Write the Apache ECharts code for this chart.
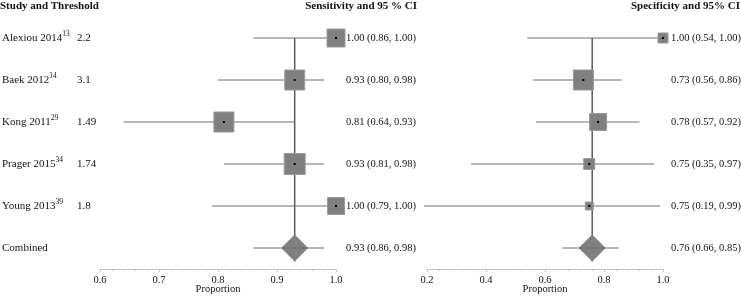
<!DOCTYPE html>
<html><head><meta charset="utf-8">
<script src="https://cdn.jsdelivr.net/npm/echarts@6/dist/echarts.min.js"></script>
<style>html,body{margin:0;padding:0;background:#fff}#c{width:741px;height:297px}</style>
</head><body><div id="c"></div>
<script>
const studies = ['Alexiou 2014','Baek 2012','Kong 2011','Prager 2015','Young 2013','Combined'];
const refs = ['13','14','29','34','39',''];
const thresholds = ['2.2','3.1','1.49','1.74','1.8',''];
const sensEst = [1.00,0.93,0.81,0.93,1.00,0.93];
const sensLow = [0.86,0.80,0.64,0.81,0.79,0.86];
const sensHigh = [1.00,0.98,0.93,0.98,1.00,0.98];
const specEst = [1.00,0.73,0.78,0.75,0.75,0.76];
const specLow = [0.54,0.56,0.57,0.35,0.19,0.66];
const specHigh = [1.00,0.86,0.92,0.97,0.99,0.85];
const sensTicks = [0.6,0.7,0.8,0.9,1.0];
const specTicks = [0.2,0.4,0.6,0.8,1.0];

// marker sizes (px), reflecting study weights
const sensBox = [18,20,20,21,17,27];
const specBox = [10,20,17,11,8,27];

const FONT = '"Liberation Serif","DejaVu Serif",serif';
const TXT = '#111';
const LINE = '#6e6e6e';
const FILL = '#808080';
const nRows = studies.length;

function rows(est, lo, hi){ return est.map((v,i)=>[v,i,lo[i],hi[i]]); }

function forestSeries(xi, est, lo, hi, boxes){
  return {
    type:'custom', xAxisIndex:xi, yAxisIndex:xi, clip:false, z:3,
    data: rows(est, lo, hi),
    renderItem(params, api){
      const i = params.dataIndex;
      const c = api.coord([api.value(0), api.value(1)]);
      const l = api.coord([api.value(2), api.value(1)]);
      const h = api.coord([api.value(3), api.value(1)]);
      const s = boxes[i];
      const ch = [];
      const ci = {type:'line', shape:{x1:l[0],y1:c[1],x2:h[0],y2:c[1]}, style:{stroke:LINE,lineWidth:1}};
      if (i === nRows-1){
        const r = s/2;
        ch.push({type:'polygon', shape:{points:[[c[0],c[1]-r],[c[0]+r,c[1]],[c[0],c[1]+r],[c[0]-r,c[1]]]}, style:{fill:FILL}});
        ch.push(ci);
      } else {
        ch.push(ci);
        ch.push({type:'rect', shape:{x:c[0]-s/2,y:c[1]-s/2,width:s,height:s}, style:{fill:FILL,stroke:'#9a9a9a',lineWidth:1}});
        ch.push({type:'rect', shape:{x:c[0]-1,y:c[1]-1,width:2,height:2}, style:{fill:'#000'}});
      }
      return {type:'group', children:ch};
    }
  };
}

function refLineSeries(xi, est, boxes){
  const k = nRows-1;
  return {
    type:'custom', xAxisIndex:xi, yAxisIndex:xi, clip:false, z:2,
    data:[[est[k], 0, k]],
    renderItem(params, api){
      const a = api.coord([api.value(0), api.value(1)]);
      const b = api.coord([api.value(0), api.value(2)]);
      return {type:'line', shape:{x1:a[0],y1:a[1],x2:b[0],y2:b[1]+boxes[k]/2}, style:{stroke:'#5a5a5a',lineWidth:1.5}};
    }
  };
}

function valueTextSeries(xi, est, lo, hi, maxVal, gap){
  return {
    type:'custom', xAxisIndex:xi, yAxisIndex:xi, clip:false, z:4,
    data: est.map((v,i)=>[maxVal, i, v, lo[i], hi[i]]),
    renderItem(params, api){
      const p = api.coord([api.value(0), api.value(1)]);
      const t = api.value(2).toFixed(2)+' ('+api.value(3).toFixed(2)+', '+api.value(4).toFixed(2)+')';
      return {type:'text', x:p[0]+gap, y:p[1], style:{text:t, fill:TXT, font:'10.5px '+FONT, textAlign:'left', textVerticalAlign:'middle'}};
    }
  };
}

const labelSeries = {
  type:'custom', xAxisIndex:0, yAxisIndex:0, clip:false, z:4,
  data: studies.map((s,i)=>[0.6, i]),
  renderItem(params, api){
    const i = params.dataIndex;
    const p = api.coord([api.value(0), api.value(1)]);
    const ch = [];
    const txt = refs[i] ? '{n|'+studies[i]+'}{s|'+refs[i]+'}' : '{n|'+studies[i]+'}';
    ch.push({type:'text', x:2, y:p[1], style:{text:txt, textAlign:'left', textVerticalAlign:'middle',
      rich:{n:{fontFamily:FONT,fontSize:11,fill:TXT}, s:{fontFamily:FONT,fontSize:7.5,fill:TXT,padding:[0,0,7,0]}}}});
    if (thresholds[i]) ch.push({type:'text', x:77, y:p[1], style:{text:thresholds[i], fill:TXT, font:'11px '+FONT, textAlign:'left', textVerticalAlign:'middle'}});
    return {type:'group', children:ch};
  }
};

function xAxis(gi, min, max, interval, ticks){
  return {
    gridIndex:gi, type:'value', min, max, interval, position:'bottom',
    name:'Proportion', nameLocation:'middle', nameGap:15, nameMoveOverlap:false,
    nameTextStyle:{fontFamily:FONT, fontSize:10.5, color:TXT},
    axisLine:{show:true, onZero:false, lineStyle:{color:'#c4c4c4', width:1}},
    axisTick:{show:true, length:3, lineStyle:{color:'#c4c4c4'}},
    minorTick:{show:true, splitNumber:5, length:2, lineStyle:{color:'#c4c4c4'}},
    splitLine:{show:false},
    axisLabel:{fontFamily:FONT, fontSize:10.5, color:TXT, margin:6,
      formatter:(v)=>{ const t = ticks.find(x=>Math.abs(x-v)<1e-9); return t===undefined?'':t.toFixed(1); }}
  };
}

function yAxis(gi){
  return {gridIndex:gi, type:'value', min:-0.5, max:nRows-0.5, inverse:true, show:false};
}

const chart = echarts.init(document.getElementById('c'), null, {renderer:'canvas'});
chart.setOption({
  animation:false,
  backgroundColor:'#fff',
  grid:[
    {left:100, width:236, top:17, bottom:28, containLabel:false, outerBoundsMode:'none'},
    {left:427, width:236, top:17, bottom:28, containLabel:false, outerBoundsMode:'none'}
  ],
  xAxis:[xAxis(0,0.6,1.0,0.1,sensTicks), xAxis(1,0.2,1.0,0.2,specTicks)],
  yAxis:[yAxis(0), yAxis(1)],
  graphic:[
    {type:'text', left:0, top:1, style:{text:'Study and Threshold', font:'bold 11px '+FONT, fill:TXT}},
    {type:'text', right:324, top:1, style:{text:'Sensitivity and 95 % CI', font:'bold 11px '+FONT, fill:TXT}},
    {type:'text', right:1, top:1, style:{text:'Specificity and 95% CI', font:'bold 11px '+FONT, fill:TXT}}
  ],
  series:[
    refLineSeries(0, sensEst, sensBox),
    forestSeries(0, sensEst, sensLow, sensHigh, sensBox),
    valueTextSeries(0, sensEst, sensLow, sensHigh, 1.0, 10),
    refLineSeries(1, specEst, specBox),
    forestSeries(1, specEst, specLow, specHigh, specBox),
    valueTextSeries(1, specEst, specLow, specHigh, 1.0, 8),
    labelSeries
  ]
});
</script></body></html>
